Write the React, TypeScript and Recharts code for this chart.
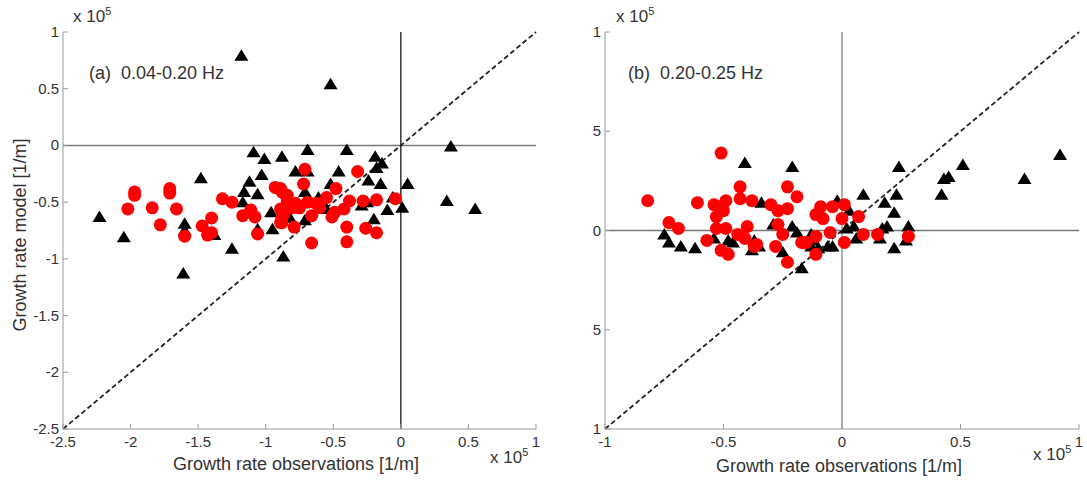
import React from "react";
import { ScatterChart, Scatter, XAxis, YAxis, ReferenceLine } from "recharts";

// (a) 0.04-0.20 Hz  -- values in units of 1e-5 1/m
const leftTriangles: [number, number][] = [
  [-2.23, -0.63], [-2.05, -0.81], [-1.61, -1.13], [-1.6, -0.69], [-1.6, -0.75], [-1.48, -0.29],
  [-1.38, -0.79], [-1.25, -0.91], [-1.18, 0.79], [-1.09, -0.06], [-1.01, -0.12], [-0.88, -0.1],
  [-1.12, -0.32], [-1.03, -0.26], [-1.16, -0.41], [-1.06, -0.43], [-1.17, -0.5], [-0.96, -0.59],
  [-1.06, -0.74], [-0.95, -0.74], [-0.87, -0.98], [-0.69, -0.04], [-0.4, -0.04], [0.37, -0.01],
  [-0.78, -0.23], [-0.69, -0.23], [-0.46, -0.23], [-0.19, -0.1], [-0.14, -0.16], [-0.18, -0.2],
  [-0.24, -0.31], [-0.15, -0.34], [-0.52, -0.34], [0.05, -0.34], [-0.71, -0.41], [-0.61, -0.46],
  [0.34, -0.49], [0.55, -0.56], [-0.29, -0.53], [-0.25, -0.5], [-0.06, -0.46], [-0.1, -0.57],
  [0.01, -0.55], [-0.55, -0.56], [-0.82, -0.64], [-0.71, -0.66], [-0.2, -0.65], [-0.52, 0.54],
];
const leftCircles: [number, number][] = [
  [-1.97, -0.41], [-1.97, -0.44], [-2.02, -0.56], [-1.84, -0.55], [-1.78, -0.7], [-1.71, -0.38],
  [-1.71, -0.42], [-1.66, -0.56], [-1.6, -0.8], [-1.47, -0.71], [-1.4, -0.64], [-1.4, -0.77],
  [-1.43, -0.79], [-1.32, -0.47], [-1.25, -0.5], [-1.17, -0.62], [-1.11, -0.57], [-1.08, -0.63],
  [-1.06, -0.78], [-0.93, -0.37], [-0.89, -0.38], [-0.85, -0.44], [-0.89, -0.56], [-0.87, -0.61],
  [-0.89, -0.68], [-0.71, -0.21], [-0.32, -0.23], [-0.72, -0.34], [-0.48, -0.38], [-0.88, -0.41],
  [-0.84, -0.44], [-0.55, -0.46], [-0.69, -0.5], [-0.63, -0.51], [-0.38, -0.49], [-0.28, -0.49],
  [-0.18, -0.48], [-0.04, -0.47], [-0.8, -0.55], [-0.6, -0.55], [-0.42, -0.56], [-0.49, -0.59],
  [-0.51, -0.63], [-0.66, -0.62], [-0.88, -0.64], [-0.88, -0.68], [-0.79, -0.72], [-0.4, -0.72],
  [-0.26, -0.73], [-0.18, -0.77], [-0.4, -0.85], [-0.66, -0.86], [-0.84, -0.49], [-0.78, -0.51],
  [-0.75, -0.55],
];

// (b) 0.20-0.25 Hz
const rightTriangles: [number, number][] = [
  [-0.41, 0.34], [-0.21, 0.32], [-0.34, 0.14], [-0.75, -0.02], [-0.73, -0.06], [-0.68, -0.08],
  [-0.62, -0.09], [-0.54, -0.04], [-0.48, -0.05], [-0.46, -0.06], [-0.42, -0.02], [-0.37, -0.05],
  [-0.38, -0.1], [-0.35, -0.08], [-0.29, 0.03], [-0.25, -0.11], [-0.21, 0.02], [-0.19, -0.01],
  [-0.17, -0.19], [-0.13, -0.02], [-0.13, -0.08], [-0.1, -0.09], [0.24, 0.32], [0.09, 0.18],
  [-0.02, 0.15], [0.03, 0.1], [0.18, 0.14], [0.23, 0.18], [0.22, 0.09], [0.02, 0.01],
  [0.05, 0.02], [0.06, -0.04], [0.17, 0.01], [0.19, 0.02], [0.16, -0.04], [0.28, 0.02],
  [0.27, -0.05], [0.22, -0.09], [-0.04, -0.08], [-0.06, -0.08], [-0.12, -0.05], [0.45, 0.27],
  [0.43, 0.26], [0.51, 0.33], [0.42, 0.18], [0.77, 0.26], [0.92, 0.38],
];
const rightCircles: [number, number][] = [
  [-0.51, 0.39], [-0.82, 0.15], [-0.61, 0.14], [-0.73, 0.04], [-0.69, 0.01], [-0.54, 0.13],
  [-0.49, 0.15], [-0.52, 0.12], [-0.5, 0.1], [-0.53, 0.07], [-0.43, 0.22], [-0.43, 0.16],
  [-0.38, 0.15], [-0.53, 0.01], [-0.49, 0.01], [-0.57, -0.05], [-0.51, -0.1], [-0.48, -0.12],
  [-0.44, -0.02], [-0.4, 0.02], [-0.41, -0.04], [-0.37, -0.08], [-0.36, -0.07], [-0.3, 0.13],
  [-0.27, 0.1], [-0.23, 0.11], [-0.23, 0.22], [-0.19, 0.17], [-0.27, 0.03], [-0.25, -0.02],
  [-0.28, -0.08], [-0.23, -0.16], [-0.17, -0.06], [-0.15, -0.06], [-0.11, -0.12], [-0.11, 0.08],
  [-0.09, 0.12], [-0.08, 0.06], [-0.04, 0.12], [0.01, 0.13], [0, 0.06], [0.07, 0.07],
  [-0.05, -0.01], [-0.11, -0.03], [-0.16, -0.06], [0.01, -0.06], [0.09, -0.02], [0.15, -0.02],
  [0.28, -0.03],
];

const leftTicks = [-2.5, -2, -1.5, -1, -0.5, 0, 0.5, 1];
const rightTicks = [-1, -0.5, 0, 0.5, 1];
// the y labels of panel (b) are clipped in the original figure
const rightYTickLabels = ["1", "5", "0", "5", "1"];

const FONT = "'Liberation Sans', Arial, sans-serif";
const TEXT = "#333";
const FRAME = "#999";

const toPoints = (arr: [number, number][]) => arr.map(([x, y]) => ({ x, y }));

const Circle = (p: any) => <circle cx={p.cx} cy={p.cy} r={6.5} fill="#ff0000" />;
const Triangle = (p: any) => (
  <path
    d={`M${p.cx},${p.cy - 6.5} L${p.cx + 7},${p.cy + 5} L${p.cx - 7},${p.cy + 5} Z`}
    fill="#000"
  />
);

const BottomTick = (p: any) => (
  <g>
    <line x1={p.x} x2={p.x} y1={p.y} y2={p.y - 5} stroke={FRAME} />
    <text x={p.x} y={p.y + 18} textAnchor="middle" fill={TEXT} fontSize={15} fontFamily={FONT}>
      {p.payload.value}
    </text>
  </g>
);
const TopTick = (p: any) => <line x1={p.x} x2={p.x} y1={p.y} y2={p.y + 5} stroke={FRAME} />;
const makeLeftTick = (labels?: string[]) => (p: any) => (
  <g>
    <line x1={p.x} x2={p.x + 5} y1={p.y} y2={p.y} stroke={FRAME} />
    <text x={p.x - 4} y={p.y + 5} textAnchor="end" fill={TEXT} fontSize={15} fontFamily={FONT}>
      {labels ? labels[p.index] : p.payload.value}
    </text>
  </g>
);
const RightTick = (p: any) => <line x1={p.x} x2={p.x - 5} y1={p.y} y2={p.y} stroke={FRAME} />;

const txt: React.CSSProperties = {
  position: "absolute",
  fontFamily: FONT,
  color: TEXT,
  whiteSpace: "nowrap",
  lineHeight: 1,
};

function Panel(props: {
  triangles: [number, number][];
  circles: [number, number][];
  ticks: number[];
  yLabels?: string[];
  width: number;
  margin: { top: number; right: number; bottom: number; left: number };
  vZeroColor: string;
}) {
  const { ticks } = props;
  const lo = ticks[0];
  const hi = ticks[ticks.length - 1];
  return (
    <ScatterChart width={props.width} height={482} margin={props.margin}>
      <XAxis
        type="number"
        dataKey="x"
        domain={[lo, hi]}
        ticks={ticks}
        axisLine={{ stroke: FRAME }}
        tickLine={false}
        tickSize={0}
        tickMargin={0}
        height={30}
        tick={BottomTick}
        interval={0}
      />
      <XAxis
        xAxisId="top"
        orientation="top"
        type="number"
        domain={[lo, hi]}
        ticks={ticks}
        axisLine={{ stroke: FRAME }}
        tickLine={false}
        tickSize={0}
        tickMargin={0}
        height={0}
        tick={TopTick}
        interval={0}
      />
      <YAxis
        type="number"
        dataKey="y"
        domain={[lo, hi]}
        ticks={ticks}
        axisLine={{ stroke: FRAME }}
        tickLine={false}
        tickSize={0}
        tickMargin={0}
        width={50}
        tick={makeLeftTick(props.yLabels)}
        interval={0}
      />
      <YAxis
        yAxisId="right"
        orientation="right"
        type="number"
        domain={[lo, hi]}
        ticks={ticks}
        axisLine={{ stroke: FRAME }}
        tickLine={false}
        tickSize={0}
        tickMargin={0}
        width={0}
        tick={RightTick}
        interval={0}
      />
      <ReferenceLine y={0} stroke="#777" strokeWidth={1.5} />
      <ReferenceLine x={0} stroke={props.vZeroColor} strokeWidth={1.2} />
      <ReferenceLine
        segment={[{ x: lo, y: lo }, { x: hi, y: hi }]}
        stroke="#222"
        strokeWidth={1.8}
        strokeDasharray="5 3"
      />
      <Scatter data={toPoints(props.triangles)} shape={Triangle} isAnimationActive={false} />
      <Scatter data={toPoints(props.circles)} shape={Circle} isAnimationActive={false} />
    </ScatterChart>
  );
}

const Times = ({ left, top }: { left: number; top: number }) => (
  <div style={{ ...txt, left, top, fontSize: 17 }}>
    x 10<sup style={{ fontSize: 11, verticalAlign: "7px" }}>5</sup>
  </div>
);

export default function App() {
  return (
    <div style={{ position: "absolute", left: 0, top: 0, width: 1087, height: 482, background: "#fff" }}>
      <div style={{ position: "absolute", left: 0, top: 0 }}>
        <Panel
          triangles={leftTriangles}
          circles={leftCircles}
          ticks={leftTicks}
          width={545}
          margin={{ top: 32, right: 9, bottom: 23, left: 13 }}
          vZeroColor="#000"
        />
      </div>
      <div style={{ position: "absolute", left: 545, top: 0 }}>
        <Panel
          triangles={rightTriangles}
          circles={rightCircles}
          ticks={rightTicks}
          yLabels={rightYTickLabels}
          width={542}
          margin={{ top: 32, right: 8, bottom: 23, left: 10 }}
          vZeroColor="#777"
        />
      </div>

      <div style={{ ...txt, left: 89, top: 64, fontSize: 18 }}>(a)&nbsp;&nbsp;0.04-0.20 Hz</div>
      <div style={{ ...txt, left: 628, top: 64, fontSize: 18 }}>(b)&nbsp;&nbsp;0.20-0.25 Hz</div>

      <Times left={73} top={6} />
      <Times left={616} top={6} />
      <Times left={490} top={447} />
      <Times left={1033} top={444} />

      <div style={{ ...txt, left: 296, top: 455, fontSize: 18, transform: "translateX(-50%)" }}>
        Growth rate observations [1/m]
      </div>
      <div style={{ ...txt, left: 839, top: 457, fontSize: 18, transform: "translateX(-50%)" }}>
        Growth rate observations [1/m]
      </div>
      <div
        style={{
          ...txt,
          left: 20,
          top: 235,
          fontSize: 18,
          transform: "translate(-50%, -50%) rotate(-90deg)",
        }}
      >
        Growth rate model [1/m]
      </div>
    </div>
  );
}
